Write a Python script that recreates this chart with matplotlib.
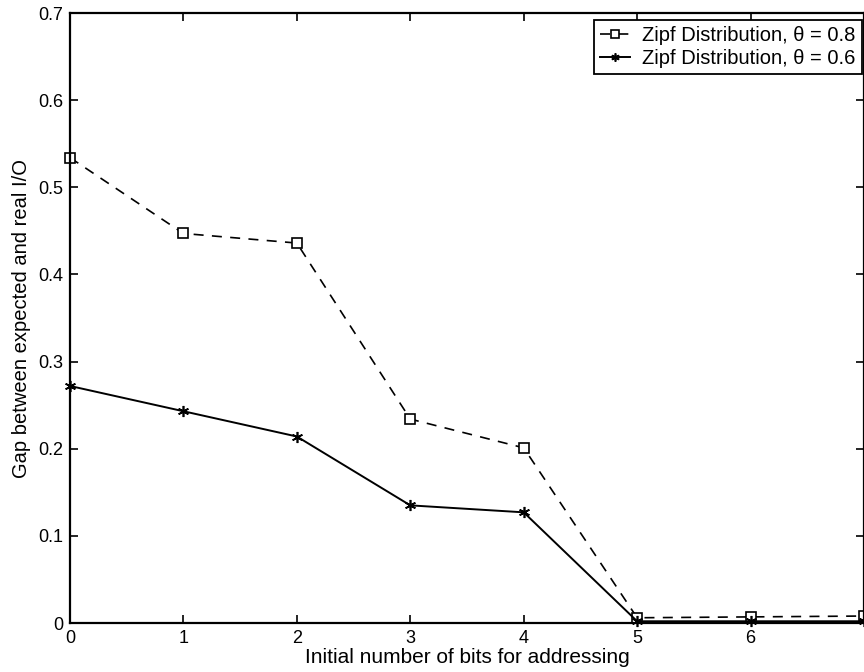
import matplotlib
matplotlib.use("Agg")
import matplotlib.pyplot as plt

plt.rcParams['font.family'] = ['Liberation Sans', 'DejaVu Sans']

# Initial bits for addressing vs. gap between expected and real I/O
bits = [0, 1, 2, 3, 4, 5, 6, 7]
gap_theta08 = [0.534, 0.447, 0.436, 0.234, 0.201, 0.006, 0.007, 0.008]
gap_theta06 = [0.272, 0.243, 0.214, 0.135, 0.127, 0.002, 0.002, 0.002]

fig = plt.figure(figsize=(8.64, 6.72), dpi=100)
ax = fig.add_axes([70 / 864, 1 - 623 / 672, (864 - 70) / 864, (623 - 13) / 672])

ax.plot(bits, gap_theta08, color='black', linestyle=(0, (6, 5)), linewidth=1.2,
        marker='s', markersize=7, markerfacecolor='white', markeredgewidth=1.2,
        label='Zipf Distribution, \u03b8 = 0.8', clip_on=False)
ax.plot(bits, gap_theta06, color='black', linestyle='-', linewidth=1.4,
        marker=(6, 2, 0), markersize=8, markeredgewidth=1.2,
        label='Zipf Distribution, \u03b8 = 0.6', clip_on=False)

ax.set_xlim(0, 7)
ax.set_ylim(0, 0.7)
ax.set_xticks(bits)
# the last tick sits on the figure edge, so its label is left blank
ax.set_xticklabels(['0', '1', '2', '3', '4', '5', '6', ''])
ax.set_yticks([0, 0.1, 0.2, 0.3, 0.4, 0.5, 0.6, 0.7])
ax.set_yticklabels(['0', '0.1', '0.2', '0.3', '0.4', '0.5', '0.6', '0.7'])
ax.tick_params(direction='in', top=True, right=True, length=6, width=1.2,
               labelsize=13, pad=5)
for s in ax.spines.values():
    s.set_linewidth(1.6)

ax.set_xlabel('Initial number of bits for addressing', fontsize=15, labelpad=1)
ax.set_ylabel('Gap between expected and real I/O', fontsize=14.5, labelpad=5)

leg = ax.legend(loc='upper right', bbox_to_anchor=(0.997, 0.989), fontsize=14.5,
                handlelength=1.5, handletextpad=0.6, borderaxespad=0.0,
                fancybox=False, edgecolor='black', framealpha=1,
                borderpad=0.3, labelspacing=0.2, markerscale=0.75)
leg.get_frame().set_linewidth(1.3)

fig.savefig('out.png', dpi=100)
